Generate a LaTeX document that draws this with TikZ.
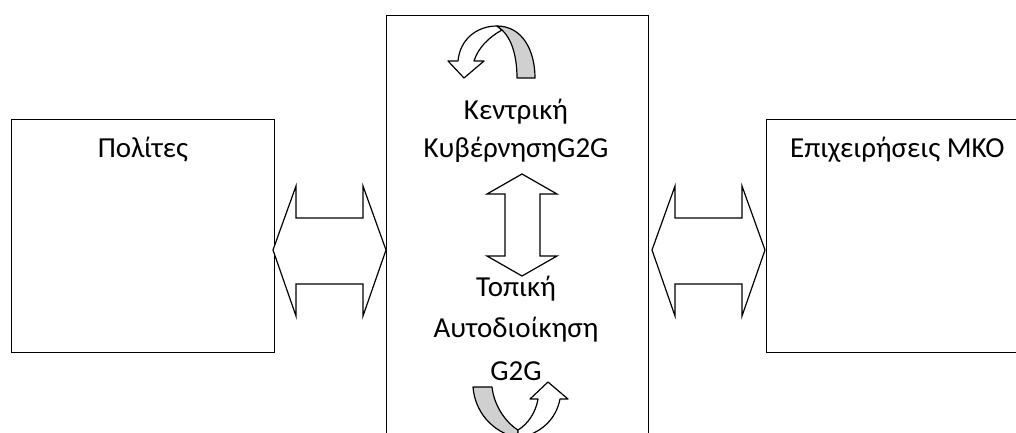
\documentclass[tikz,border=0pt]{standalone}
\usepackage{fontspec}
\setmainfont{Carlito}
\definecolor{bandgray}{RGB}{208,208,208}
\begin{document}
\begin{tikzpicture}[x=1pt, y=-1pt,
  box/.style={draw, line width=1.3pt, inner sep=0pt, anchor=north west},
  lbl/.style={font=\fontsize{29}{34}\selectfont, inner sep=0pt, anchor=base},
  blockarrow/.style={draw, line width=1.2pt, fill=white, line join=miter},
  band/.style={draw, line width=1.2pt, fill=bandgray, line join=round}]
\useasboundingbox (0,0) rectangle (1016,432);
\clip (0,0) rectangle (1016,432);

% the three boxes
\node[box, minimum width=263pt, minimum height=233pt] (citizens) at (11,119) {};
\node[box, minimum width=262pt, minimum height=460pt] (gov) at (386,15) {};
\node[box, minimum width=300pt, minimum height=233pt] (business) at (766,119) {};

% labels
\node[lbl] (tcitizens) at (143,157) {Πολίτες};
\node[lbl, anchor=base west] (tbusiness) at (790,157) {Επιχειρήσεις ΜΚΟ};
\node[lbl] (tcentral1) at (516,119) {Κεντρική};
\node[lbl] (tcentral2) at (516,157) {ΚυβέρνησηG2G};
\node[lbl] (tlocal1) at (516,296) {Τοπική};
\node[lbl] (tlocal2) at (516,337) {Αυτοδιοίκηση};
\node[lbl] (tlocal3) at (516,380) {G2G};

% horizontal two-way block arrows between the boxes
\draw[blockarrow] (273,250) -- (296,186) -- (296,218) -- (363,218) -- (363,186)
  -- (386,250) -- (363,316) -- (363,284) -- (296,284) -- (296,316) -- cycle;
\draw[blockarrow] (652,250) -- (675,186) -- (675,218) -- (742,218) -- (742,186)
  -- (765,250) -- (742,316) -- (742,284) -- (675,284) -- (675,316) -- cycle;

% vertical two-way block arrow inside the government box
\draw[blockarrow] (522,174) -- (557,194) -- (540,194) -- (540,256) -- (557,256)
  -- (522,276) -- (487,256) -- (505,256) -- (505,194) -- (487,194) -- cycle;

% curved arrow at the top
\draw[blockarrow, line join=round] (464,78) -- (448,61) -- (458,61)
  .. controls (460,39) and (477,26) .. (497,26)
  -- (502,30)
  .. controls (489,37) and (478,48) .. (474,61) -- (484,61) -- cycle;
\draw[band] (497,26) .. controls (522,26) and (535,50) .. (535,78) -- (517,78)
  .. controls (517,55) and (511,38) .. (502,30) -- cycle;

% curved arrow at the bottom
\draw[band] (473,387) -- (492,387)
  .. controls (494,405) and (505,422) .. (518,430)
  -- (518,438)
  .. controls (492,432) and (475,412) .. (473,387) -- cycle;
\draw[blockarrow, line join=round] (518,430)
  .. controls (528,424) and (536,412) .. (538,399) -- (530,399) -- (548,382)
  -- (568,399) -- (560,399)
  .. controls (556,420) and (540,434) .. (518,438) -- cycle;
\end{tikzpicture}
\end{document}
